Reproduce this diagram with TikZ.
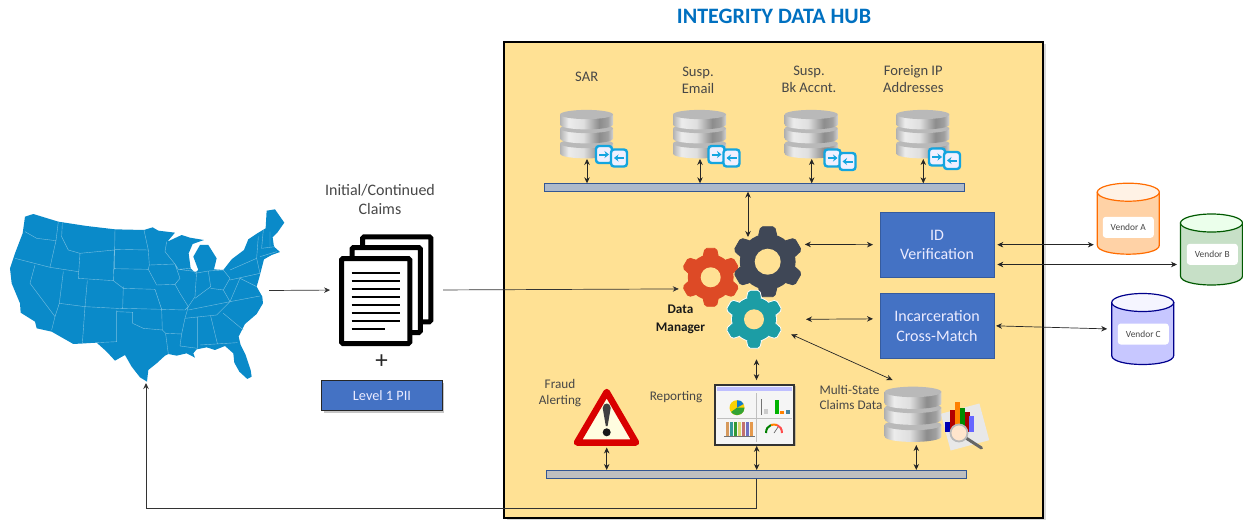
\documentclass[tikz,border=0pt]{standalone}
\usepackage{fontspec}
\setmainfont{Carlito}
\usetikzlibrary{shadows,arrows.meta}
\definecolor{hubfill}{HTML}{FFE194}
\definecolor{hubblue}{HTML}{0070C0}
\definecolor{mapblue}{HTML}{0A8AC9}
\definecolor{boxblue}{HTML}{4472C4}
\definecolor{iconcyan}{HTML}{14A5DF}
\definecolor{geardark}{HTML}{3F4756}
\definecolor{gearred}{HTML}{DD4A26}
\definecolor{gearteal}{HTML}{1C9DA5}
\pgfdeclarehorizontalshading{dbmetal}{100bp}{color(0bp)=(gray!60);color(25bp)=(gray!60);
  color(33bp)=(gray!15);color(47bp)=(gray!25);color(62bp)=(gray!90);color(70bp)=(gray!75);
  color(75bp)=(gray!35);color(100bp)=(gray!35)}
\tikzset{
  >={Stealth[length=6pt,width=5.5pt]},
  iconspot/.style={inner sep=0,outer sep=0},
  busbar/.style={draw=boxblue!75!black,line width=.9pt,inner sep=0,outer sep=0},
  dblarrow/.style={<->,line width=.7pt,black!85},
  onearrow/.style={->,line width=.7pt,black!80},
  hublabel/.style={inner sep=0,align=center,text=black!72,font=\fontsize{13.2}{15.5}\selectfont},
  toplabel/.style={hublabel,font=\fontsize{14.6}{17}\selectfont},
  bluebox/.style={draw=boxblue!80!black,fill=boxblue,line width=.8pt,inner sep=0,outer sep=0,
    align=center,text=blue!8,font=\fontsize{16}{19.5}\selectfont,minimum width=114pt},
  vendortag/.style={fill=white,rounded corners=3pt,minimum width=51pt,minimum height=21pt,
    inner sep=0,text=black!72,font=\fontsize{9.4}{11}\selectfont},
  dbstack/.pic={
    \foreach \y in {9,-6,-20}{
      \shade[shading=dbmetal] (-26.5,\y) -- (-26.5,\y+10)
        .. controls (-26.5,\y+16.5) and (26.5,\y+16.5) .. (26.5,\y+10) -- (26.5,\y) -- cycle;
      \fill[gray!55] (0,\y) ellipse (26.5 and 4.6);
    }
  },
  swappair/.pic={
    \draw[iconcyan,line width=2.4pt,fill=blue!6,rounded corners=3pt] (-8,-8.5) rectangle (8,8.5);
    \draw[-{Stealth[length=4.5pt,width=7pt]},iconcyan,line width=2pt] (-5,0) -- (5,0);
    \begin{scope}[shift={(15,3.5)}]
      \draw[iconcyan,line width=2.4pt,fill=blue!6,rounded corners=3pt] (-8,-8.5) rectangle (8,8.5);
      \draw[-{Stealth[length=4.5pt,width=7pt]},iconcyan,line width=2pt] (5,0) -- (-5,0);
    \end{scope}
  },
}
% node, body radius, outer radius, hole radius, colour, rim
\newcommand{\drawgear}[6]{
  \fill[#6] (#1) circle (#2+.9);
  \foreach \a in {30,90,...,330}
    \filldraw[fill=#5,draw=#6,line width=.8pt,rounded corners=2pt,shift={(#1)},rotate=\a]
      ({#2-2},{-.27*#3}) -- ({#3},{-.2*#3}) -- ({#3},{.2*#3}) -- ({#2-2},{.27*#3}) -- cycle;
  \fill[#5] (#1) circle (#2);
  \fill[hubfill] (#1) circle (#4);
}
% node, rim, side, lid
\newcommand{\drawcan}[4]{
  \begin{scope}[shift={(#1)},line width=1.2pt]
    \filldraw[fill=#3,draw=#2] (-31,-26.5) -- (-31,26.5)
      .. controls (-31,38.5) and (31,38.5) .. (31,26.5) -- (31,-26.5) -- cycle;
    \filldraw[fill=#4,draw=#2] (0,-26.5) ellipse (31 and 9);
  \end{scope}
}
\begin{document}
\begin{tikzpicture}[x=1pt,y=-1pt]
\useasboundingbox (0,0) rectangle (1243,520);

% the states
\begin{scope}[shift={(0,190)},x=.3333pt,y=-.3333pt]
  \fill[mapblue,line join=round] (75,80) -- (100,72) -- (175,95) -- (260,108) -- (345,118) -- (432,120)
    -- (458,112) -- (475,122) -- (525,128) -- (502,155) -- (545,135) -- (570,143) -- (612,150)
    -- (578,162) -- (566,190) -- (572,235) -- (585,248) -- (595,240) -- (580,200) -- (600,165)
    -- (625,165) -- (650,205) -- (642,238) -- (670,240) -- (695,208) -- (732,180) -- (745,148)
    -- (772,130) -- (797,115) -- (800,62) -- (825,58) -- (853,98) -- (832,128) -- (818,142)
    -- (822,170) -- (840,186) -- (815,195) -- (792,208) -- (785,235) -- (778,262) -- (770,290)
    -- (787,320) -- (789,340) -- (770,372) -- (735,402) -- (716,440) -- (722,465) -- (737,495)
    -- (752,540) -- (755,560) -- (742,567) -- (718,545) -- (703,518) -- (700,490) -- (675,468)
    -- (645,480) -- (620,472) -- (590,478) -- (580,490) -- (585,503) -- (560,490) -- (530,497)
    -- (505,492) -- (495,497) -- (470,520) -- (445,540) -- (441,575) -- (420,562) -- (395,530)
    -- (375,495) -- (345,512) -- (320,485) -- (290,458) -- (220,462) -- (155,425) -- (110,415)
    -- (105,395) -- (62,368) -- (60,340) -- (35,280) -- (30,235) -- (45,190) -- (68,130) -- cycle;
  \draw[mapblue!55!white,line width=.4pt]
    (75,125) -- (110,145) -- (168,152) (175,95) -- (168,152) -- (150,232)
    (45,205) -- (150,232) -- (235,245) (187,100) -- (185,140) -- (205,180) -- (240,190)
    (240,190) -- (235,265) -- (340,272) -- (343,180) -- (240,190) (345,118) -- (343,238)
    (343,178) -- (445,180) (342,236) -- (445,238) (340,272) -- (370,295) (368,295) -- (465,298)
    (262,272) -- (255,350) -- (368,356) -- (370,290) (368,355) -- (485,358)
    (190,245) -- (178,340) -- (255,350) (105,225) -- (90,280) -- (165,380)
    (178,340) -- (165,380) -- (155,420) (255,350) -- (247,462) (350,362) -- (350,455) -- (290,458)
    (350,365) -- (398,367) -- (398,400) -- (430,415) -- (487,420) -- (485,358)
    (432,120) -- (445,180) -- (448,225) -- (445,238) (450,225) -- (525,222)
    (525,222) -- (495,185) -- (500,155) (525,222) -- (535,238) -- (572,235)
    (445,238) -- (470,285) -- (525,283) -- (540,265) -- (525,222)
    (465,298) -- (485,358) -- (555,360) -- (565,350) -- (540,310) -- (525,283)
    (535,238) -- (590,245) -- (585,320) -- (565,350) (585,250) -- (625,243) -- (632,290) -- (585,325)
    (625,243) -- (670,240) -- (690,265) -- (670,300) -- (632,295) (565,360) -- (690,335) -- (670,300)
    (565,350) -- (555,385) -- (650,375) -- (690,335) -- (780,318)
    (487,420) -- (497,430) -- (545,432) -- (555,385) (497,432) -- (505,492)
    (545,432) -- (540,468) -- (592,475) (592,380) -- (592,475) (632,378) -- (652,460)
    (600,465) -- (712,458) (670,370) -- (730,420) (690,335) -- (705,300) -- (720,265) -- (770,290)
    (690,240) -- (770,205) -- (780,250) -- (690,270) (770,205) -- (775,140) (790,120) -- (785,175)
    (810,125) -- (810,170) (785,175) -- (825,170) (780,200) -- (830,185);
\end{scope}
\coordinate (mapport) at (269,290.5);
\coordinate (mapfoot) at (146,383);
\coordinate (returncorner) at (146,508);

% claims pile
\node[iconspot,minimum width=94.3pt,minimum height=112pt] (claimspile) at (386.2,290) {};
\foreach \sx/\sy in {360/234.3,349.5/245,339/256}
  \draw[line width=5pt,fill=white,rounded corners=1.5pt] (\sx+2.5,\sy+2.5) rectangle (\sx+70.8,\sy+87.5);
\foreach \y in {273.3,281.2,289.1,297,304.9,312.8,320.7}
  \draw[line width=2pt] (351.7,\y) -- (400,\y);
\draw[line width=2pt] (351.7,328.6) -- (385,328.6);
\node[hublabel,font=\fontsize{16}{19}\selectfont] (claimslabel) at (380,199.5) {Initial/Continued\\Claims};
\node[inner sep=0,font=\fontsize{25}{25}\selectfont,text=black!85] (plussign) at (381.7,362) {+};
\node[draw=black!85,fill=boxblue,line width=1pt,minimum width=120.6pt,minimum height=30pt,inner sep=0,outer sep=0,
  text=blue!8,font=\fontsize{14.3}{16}\selectfont,drop shadow={shadow xshift=2pt,shadow yshift=-2pt,opacity=.45}]
  (piibox) at (382,395.7) {Level 1 PII};

% the hub
\node[inner sep=0,text=hubblue,font=\fontsize{22}{24}\selectfont\bfseries] (hubtitle) at (774,16) {INTEGRITY DATA HUB};
\node[draw=black,fill=hubfill,line width=1.4pt,minimum width=539pt,minimum height=476pt,inner sep=0,outer sep=0,
  drop shadow={shadow xshift=2.5pt,shadow yshift=-1.5pt,opacity=.3}] (hubframe) at (773.5,280) {};

\node[busbar,fill={rgb,255:red,173;green,185;blue,202},minimum width=419.6pt,minimum height=8.4pt] (topbus) at (754.5,187.5) {};
\node[busbar,fill=gray!50,minimum width=420pt,minimum height=8.7pt] (botbus) at (756.7,474.3) {};

% four stores on the top bus
\foreach \store/\x/\sx/\sy in {sar/587/604/154.5,email/700/716.5/154.5,bank/811.7/832.5/158,foreign/923.3/937/157}{
  \node[iconspot,minimum width=53pt,minimum height=49pt] (\store stack) at (\x,134.5) {};
  \pic at (\x-.5,134.5) {dbstack};
  \pic at (\sx,\sy) {swappair};
  \draw[dblarrow] (\store stack.south) -- (\store stack.south |- topbus.north);
}
\node[toplabel] (sarlabel) at (586.7,76.7) {SAR};
\node[toplabel] (emaillabel) at (698,80.3) {Susp.\\Email};
\node[toplabel] (banklabel) at (809,79) {Susp.\\Bk Accnt.};
\node[toplabel] (foreignlabel) at (913.3,79) {Foreign IP\\Addresses};

% data manager
\node[circle,iconspot,minimum size=68pt] (redgear) at (710.7,277.3) {};
\node[circle,iconspot,minimum size=82pt] (darkgear) at (767.7,261.7) {};
\node[circle,iconspot,minimum size=80pt] (tealgear) at (754,319.3) {};
\drawgear{redgear}{22}{29}{10}{gearred}{gearred}
\drawgear{darkgear}{27}{35}{13}{geardark}{geardark}
\drawgear{tealgear}{22}{29}{10}{gearteal}{white}
\node[hublabel,text=black!90,font=\fontsize{13.2}{17.5}\selectfont\bfseries] (managerlabel) at (680.5,319.5) {Data\\Manager};

\node[bluebox,minimum height=65.3pt] (idbox) at (937,244.7) {ID\\Verification};
\node[bluebox,minimum height=64.3pt] (incbox) at (937,325.8) {Incarceration\\Cross-Match};

% vendors
\node[iconspot,minimum width=63pt,minimum height=71pt] (vendora) at (1128.3,218.7) {};
\node[iconspot,minimum width=63pt,minimum height=71pt] (vendorb) at (1211.5,249.5) {};
\node[iconspot,minimum width=63pt,minimum height=71pt] (vendorc) at (1142.7,329) {};
\drawcan{vendora}{orange!85!red}{orange!35!white}{orange!10!white}
\drawcan{vendorb}{green!35!black}{green!45!black!22!white}{green!8!white}
\drawcan{vendorc}{blue!55!black}{blue!22!white}{blue!4!white}
\node[vendortag] (vendoratag) at (1128.3,227.3) {Vendor A};
\node[vendortag] (vendorbtag) at (1212.3,254.3) {Vendor B};
\node[vendortag] (vendorctag) at (1143.3,334) {Vendor C};

% lower row
\node[iconspot,minimum width=68pt,minimum height=61pt] (fraudsign) at (606.7,417) {};
\draw[red!85!black,line width=6.5pt,line join=round,fill=yellow!12!white] (606.7,392) -- (636,442.5) -- (577,442.5) -- cycle;
\fill[black!75] (602.7,408) .. controls (603,402) and (610.4,402) .. (610.7,408) -- (607.6,426) -- (605.8,426) -- cycle;
\fill[black!90] (606.7,432.3) circle (4);
\node[hublabel] (fraudlabel) at (560,393) {Fraud\\Alerting};
\node[hublabel] (reportlabel) at (676,397.3) {Reporting};

\node[draw=black!80,line width=1.4pt,fill=gray!8,minimum width=79pt,minimum height=60pt,inner sep=0,outer sep=0,
  drop shadow={shadow xshift=1.5pt,shadow yshift=-1.5pt,opacity=.4}] (reportscreen) at (754.5,414.8) {};
% what the screen shows
\fill[blue!25!white] (717,386.5) rectangle (792,391);
\fill[yellow!70!orange] (737,407.7) circle (7.5);
\fill[green!55!black!80] (737,407.7) -- (744.5,407.7) -- (743.5,411.5) -- (741,414) -- (737,415.2) -- (733,414) -- (731,412) -- cycle;
\fill[cyan!60!blue] (737,407.7) -- (737,400.2) -- (741,401) -- (743.5,404) -- cycle;
\foreach \bx/\btop/\bcol in {775/400/green!70!black,780/411/orange,786/410/cyan!60!black,764/409/gray!40}
  \fill[\bcol] (\bx,\btop) rectangle (\bx+4,414);
\foreach \bx/\bcol in {725.5/orange!60!gray,729.5/teal,733.5/green!50!black,737.5/yellow!60!gray,741.5/red!40!gray,745.5/blue!40!gray,749.5/orange!50!brown}
  \fill[\bcol!80] (\bx,422) rectangle (\bx+3.6,436);
\draw[black!55,line width=.5pt] (724,436.5) -- (754.5,436.5) (761,414.5) -- (761,399);
\draw[gray!50,line width=.5pt] (717,418) -- (792,418) (756,393) -- (756,442);
\draw[green!50!black,line width=2pt] (766,433) .. controls (766,429) and (768,426) .. (771,425);
\draw[orange,line width=2pt] (771,425) .. controls (773,424.4) and (775,424.4) .. (777,425);
\draw[red!70,line width=2pt] (777,425) .. controls (780,426) and (782,429) .. (782,433);
\draw[black!60,line width=.7pt] (774,433) -- (778,427);

\node[iconspot,minimum width=57pt,minimum height=56pt] (multidb) at (913,414.7) {};
% chart and lens beside the claims store
\fill[gray!18,rotate around={15:(965,427)}] (945,408) rectangle (985,446);
\foreach \bx/\btop/\bcol in {945/422/blue!70!black,950/410/red!70!black,955/402/orange,960/408/green!55!black,965/412/red!65!black,969/416/blue!60}
  \fill[\bcol] (\bx,\btop) rectangle (\bx+5,432);
\draw[line width=3pt,black!60,line cap=round] (966,438) -- (981.5,448);
\draw[gray!55,line width=1.8pt,fill=orange!20!white] (959,433) circle (8.5);
\pic[xscale=1.07,yscale=1.14] at (913,414.7) {dbstack};
\node[hublabel,align=left] (multilabel) at (851,397.5) {Multi-State\\Claims Data};

% connectors
\draw[dblarrow] (topbus.south -| 748,0) -- (748,237);
\draw[onearrow,shorten >=9pt] (mapport) -- (claimspile.west);
\draw[onearrow,shorten <=9.7pt] (claimspile.east) -- (redgear.200);
\draw[dblarrow,shorten >=7pt] (darkgear.25) -- (idbox.west);
\draw[dblarrow,shorten >=7pt] ([xshift=52pt]tealgear.center) -- ([yshift=7pt]incbox.west);
\draw[dblarrow] (tealgear.-22) -- ([shift={(-20.5pt,6.7pt)}]multidb.north);
\draw[dblarrow,shorten >=4.7pt] ([xshift=2pt]reportscreen.north |- tealgear.south) -- ([xshift=2pt]reportscreen.north);
\draw[dblarrow,shorten <=1pt] ([xshift=2.2pt]reportscreen.south) -- ([xshift=2.2pt]reportscreen.south |- botbus.north);
\draw[dblarrow] (fraudsign.south) -- (fraudsign.south |- botbus.north);
\draw[dblarrow,shorten <=2.3pt] ([xshift=3.3pt]multidb.south) -- ([xshift=3.3pt]multidb.south |- botbus.north);
\draw[dblarrow,shorten <=3.3pt,shorten >=3pt] (idbox.east) -- (vendora.west |- idbox.east);
\draw[dblarrow,shorten <=3.3pt,shorten >=3pt] ([yshift=-19.8pt]idbox.east) -- ([yshift=-19.8pt]idbox.east -| vendorb.west);
\draw[dblarrow,shorten <=2pt,shorten >=4pt] (incbox.east) -- (vendorc.west);
\draw[onearrow,line width=.9pt] (botbus.south) |- (returncorner) -- (mapfoot);
\end{tikzpicture}
\end{document}
